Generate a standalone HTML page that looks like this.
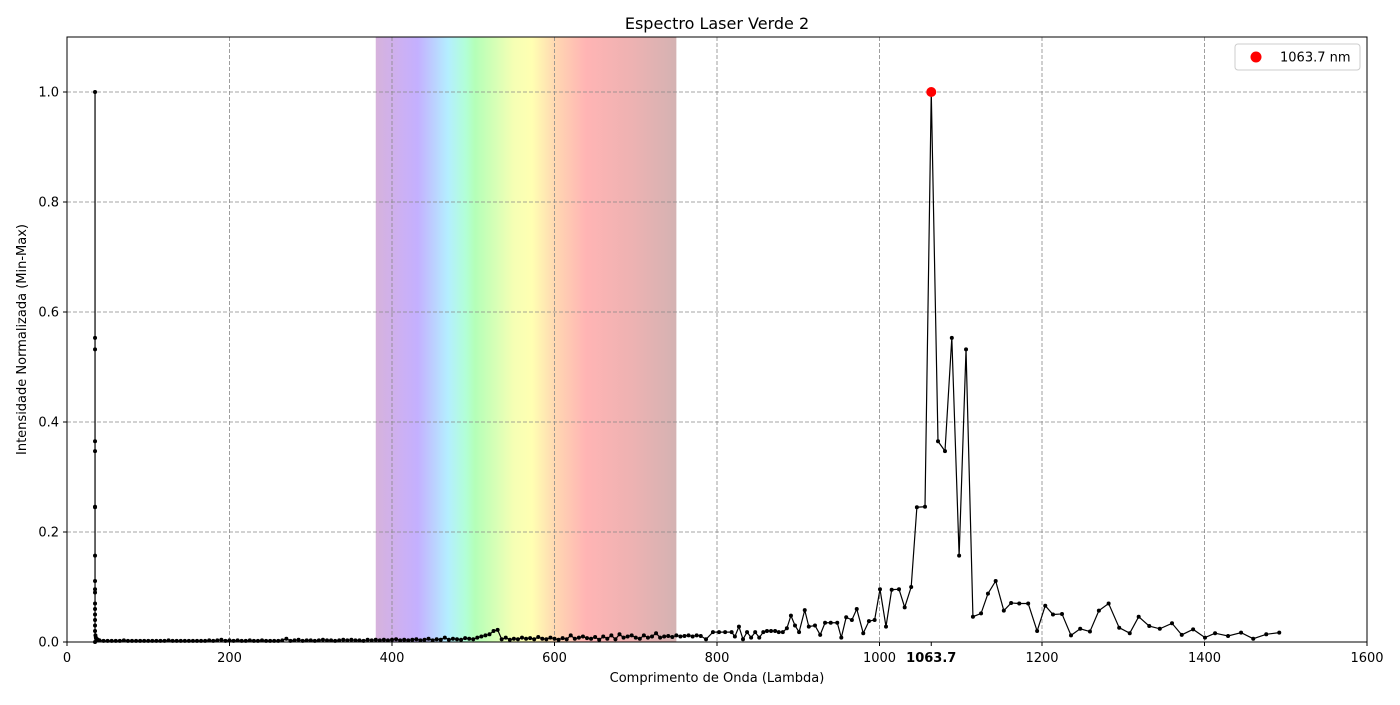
<!DOCTYPE html>
<html><head><meta charset="utf-8"><style>
body{margin:0;background:#fff;font-family:"Liberation Sans","DejaVu Sans",sans-serif}
svg text{font-family:"DejaVu Sans","Liberation Sans",sans-serif}
</style></head><body>
<svg id="chart" width="1400" height="700" xmlns="http://www.w3.org/2000/svg">
<defs>
<linearGradient id="spec" x1="0" x2="1" y1="0" y2="0">
<stop offset="0" stop-color="#d6b2dc"/>
<stop offset="0.08" stop-color="#cdb0f2"/>
<stop offset="0.14" stop-color="#c4b0ff"/>
<stop offset="0.24" stop-color="#b4eeff"/>
<stop offset="0.30" stop-color="#b2ffd6"/>
<stop offset="0.33" stop-color="#b4ffb8"/>
<stop offset="0.46" stop-color="#f6ffb4"/>
<stop offset="0.52" stop-color="#ffffb2"/>
<stop offset="0.60" stop-color="#ffd6b2"/>
<stop offset="0.70" stop-color="#ffb4b4"/>
<stop offset="0.85" stop-color="#eeb2b2"/>
<stop offset="1" stop-color="#d4b2b2"/>
</linearGradient>
</defs>
<g id="g"></g>
</svg>
<script>
const xTicks=[0,200,400,600,800,1000,1200,1400,1600];
const yTicks=[0.0,0.2,0.4,0.6,0.8,1.0];
const peakX=[1063.7];
const peakY=[1.0];
const spikeX=[34.5,34.5,34.5,34.5,34.5,34.5,34.5,34.5,34.5,34.5,34.5,34.5,34.5,34.5,34.5,34.5,34.5,34.5,35,35.5,36,37,38,39];
const spikeY=[0,1.0,0.553,0.532,0.365,0.347,0.246,0.245,0.157,0.111,0.096,0.09,0.07,0.06,0.05,0.04,0.03,0.02,0.012,0.008,0.006,0.005,0.004,0.003];
const noiseY=[0.003,0.002,0.002,0.002,0.002,0.002,0.003,0.002,0.002,0.002,0.002,0.002,0.002,0.002,0.002,0.002,0.002,0.003,0.002,0.002,0.002,0.002,0.002,0.002,0.002,0.002,0.002,0.003,0.002,0.003,0.004,0.002,0.003,0.002,0.003,0.002,0.002,0.003,0.002,0.002,0.003,0.002,0.002,0.002,0.002,0.003,0.006,0.002,0.003,0.004,0.002,0.003,0.003,0.002,0.003,0.004,0.003,0.003,0.002,0.003,0.004,0.003,0.004,0.003,0.003,0.002,0.004,0.003,0.004,0.003,0.004,0.003,0.004,0.005,0.003,0.004,0.003,0.004,0.005,0.003,0.004,0.006,0.003,0.005,0.004,0.008,0.004,0.006,0.005,0.004,0.007,0.006,0.005,0.008,0.010,0.012,0.014,0.020,0.022,0.005,0.008,0.004,0.006,0.005,0.008,0.006,0.007,0.005,0.009,0.006,0.005,0.008,0.006,0.004,0.007,0.005,0.012,0.006,0.008,0.010,0.007,0.006,0.009,0.004,0.010,0.006,0.012,0.005,0.014,0.008,0.010,0.012,0.008,0.006,0.012,0.008,0.010,0.016,0.008,0.010,0.011,0.009,0.012,0.010,0.011,0.012,0.010,0.012,0.011];
const noiseStart=40, noiseStep=5;
const tailX=[786.5,795,802.5,810,818,822,827,832,837,842,847,852,857,861.5,866.5,871.5,876,881,886,891,896,901,908,913,920.6,927,933,940,948,953,959,966,972,980,987,994,1000.6,1008,1015,1024,1031,1039,1046,1056,1063.7,1072,1080.6,1089,1098,1106.5,1115,1125,1133.5,1143,1153,1162,1172,1183,1194,1204,1213.5,1224.6,1235.7,1247,1259,1270,1282,1295,1308,1319,1332,1345,1360,1372,1386,1400.6,1413,1429,1445,1460,1476,1492];
const tailY=[0.005,0.018,0.018,0.018,0.018,0.010,0.028,0.005,0.018,0.008,0.018,0.008,0.018,0.020,0.020,0.020,0.018,0.018,0.025,0.048,0.030,0.018,0.058,0.028,0.030,0.013,0.035,0.035,0.035,0.008,0.045,0.040,0.060,0.016,0.038,0.040,0.096,0.028,0.095,0.096,0.063,0.100,0.245,0.246,1.0,0.365,0.347,0.553,0.157,0.532,0.046,0.052,0.088,0.111,0.057,0.071,0.070,0.070,0.020,0.066,0.050,0.051,0.012,0.024,0.019,0.057,0.070,0.026,0.016,0.046,0.029,0.024,0.034,0.013,0.023,0.008,0.016,0.011,0.017,0.006,0.014,0.017];
</script>
<script>
const NS="http://www.w3.org/2000/svg";
const g=document.getElementById('g');
const L=67,R=1367,T=37,B=642;
const X=v=>L+(v-0)/1600*(R-L);
const Y=v=>B-(v/1.1)*(B-T);
function mk(tag,attrs,parent){const e=document.createElementNS(NS,tag);for(const k in attrs)e.setAttribute(k,attrs[k]);(parent||g).appendChild(e);return e;}
const band=mk('rect',{x:X(380),y:T,width:X(750)-X(380),height:B-T,fill:'url(#spec)'});


xTicks.forEach(t=>{if(t>0&&t<1600){const l=mk('line',{x1:X(t),x2:X(t),y1:T,y2:B,stroke:'#888','stroke-dasharray':'4,2','stroke-width':0.8});

}});
yTicks.forEach(t=>{if(t>0){const l=mk('line',{x1:L,x2:R,y1:Y(t),y2:Y(t),stroke:'#888','stroke-dasharray':'4,2','stroke-width':0.8});

}});
let pts=[];
spikeX.forEach((x,i)=>pts.push([x,spikeY[i]]));
noiseY.forEach((y,i)=>pts.push([noiseStart+i*noiseStep,y]));
tailX.forEach((x,i)=>pts.push([x,tailY[i]]));
const line=mk('polyline',{points:pts.map(p=>X(p[0])+','+Y(p[1])).join(' '),fill:'none',stroke:'#000','stroke-width':1.2});


pts.forEach(p=>{const c=mk('circle',{cx:X(p[0]),cy:Y(p[1]),r:2,fill:'#000'});

});
const pk=mk('circle',{cx:X(peakX[0]),cy:Y(peakY[0]),r:5,fill:'red'});


const fr=mk('rect',{x:L,y:T,width:R-L,height:B-T,fill:'none',stroke:'#000','stroke-width':1});


xTicks.forEach(t=>{mk('line',{x1:X(t),x2:X(t),y1:B,y2:B+4,stroke:'#000'});
const tx=mk('text',{x:X(t),y:B+20,'text-anchor':'middle','font-size':13});tx.textContent=t;

});
mk('line',{x1:X(peakX[0]),x2:X(peakX[0]),y1:B,y2:B+4,stroke:'#000'});
const pl=mk('text',{x:X(peakX[0]),y:B+20,'text-anchor':'middle','font-size':13,'font-weight':'bold'});pl.textContent=peakX[0].toFixed(1);


yTicks.forEach(t=>{mk('line',{x1:L-4,x2:L,y1:Y(t),y2:Y(t),stroke:'#000'});
const tx=mk('text',{x:L-8,y:Y(t)+4.5,'text-anchor':'end','font-size':13});tx.textContent=t.toFixed(1);

});
const ti=mk('text',{x:(L+R)/2,y:29,'text-anchor':'middle','font-size':16});ti.textContent='Espectro Laser Verde 2';


const xl=mk('text',{x:(L+R)/2,y:682,'text-anchor':'middle','font-size':13});xl.textContent='Comprimento de Onda (Lambda)';


const yl=mk('text',{x:0,y:0,'text-anchor':'middle','font-size':13,transform:`translate(26,${(T+B)/2}) rotate(-90)`});yl.textContent='Intensidade Normalizada (Min-Max)';


const lg=mk('rect',{x:1235,y:44,width:125,height:26,rx:3,fill:'#fff',stroke:'#ccc'});


const ld=mk('circle',{cx:1256,cy:57,r:5.5,fill:'red'});


const lt=mk('text',{x:1280,y:61.5,'font-size':13});lt.textContent='1063.7 nm';


</script>
</body></html>
